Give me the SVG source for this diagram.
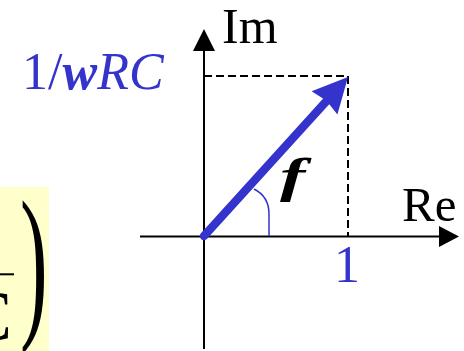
<svg xmlns="http://www.w3.org/2000/svg" width="464" height="351" viewBox="0 0 464 351">
<style>
text{font-family:'Liberation Serif','Times New Roman',serif;}
.axis{stroke:#000;stroke-width:2;fill:none;}
.dash{stroke:#000;stroke-width:2;fill:none;stroke-dasharray:8 4;}
</style>
<rect width="464" height="351" fill="#fff"/>
<g id="formula">
<rect x="0" y="187" width="49" height="164" fill="#FFFFCC"/>
<line x1="0" y1="274.3" x2="14" y2="274.3" stroke="#000" stroke-width="2"/>
<text font-family="'Liberation Serif', serif" x="-36" y="340" font-size="72" fill="#000">C</text>
<text font-family="'Liberation Serif', serif" transform="translate(20,318) scale(1,2.05)" font-size="83" fill="#000">)</text>
</g>
<g id="connectors">
<line class="axis" x1="140" y1="236.5" x2="441" y2="236.5"/>
<polygon points="459,236.5 439,226 439,247" fill="#000"/>
<line class="axis" x1="204" y1="349" x2="204" y2="49"/>
<polygon points="204,29 193,51 215,51" fill="#000"/>
<line class="dash" x1="204" y1="76" x2="348" y2="76"/>
<line class="dash" x1="348" y1="76" x2="348" y2="236"/>
<path d="M254,189 C264,194 269,203 269,214 L269,236" fill="none" stroke="#3434CC" stroke-width="1.5"/>
<line x1="204" y1="236" x2="327" y2="100.5" stroke="#3434CC" stroke-width="8.5" stroke-linecap="round"/>
<polygon points="348,77 311.6,91.2 326.5,100.7 337.4,114.6" fill="#3434CC"/>
</g>
<g id="labels">
<text font-family="'Liberation Serif', serif" x="222" y="43" font-size="50" fill="#000">Im</text>
<text font-family="'Liberation Serif', serif" x="402" y="221" font-size="49" fill="#000">Re</text>
<text font-family="'Liberation Serif', serif" x="22" y="89" font-size="52" fill="#3434CC">1/<tspan font-weight="bold" font-style="italic">w</tspan><tspan font-style="italic">RC</tspan></text>
<text font-family="'Liberation Serif', serif" x="334" y="282" font-size="52" fill="#3434CC">1</text>
<text font-family="'Liberation Serif', serif" transform="translate(280,192) scale(1.55,1)" font-size="49" font-weight="bold" font-style="italic" fill="#000">f</text>
</g>
</svg>
